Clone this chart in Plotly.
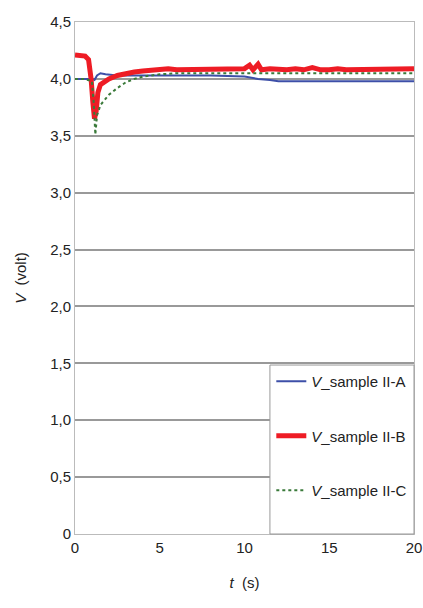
import plotly.graph_objects as go

# Data
t_a = [0, 0.5, 1.0, 1.15, 1.3, 1.5, 1.8, 2.5, 3, 5, 8, 10, 10.8, 11.5, 12, 14, 16, 18, 20]
v_a = [4.0, 4.0, 4.0, 3.99, 4.03, 4.05, 4.04, 4.03, 4.03, 4.03, 4.03, 4.02, 4.0, 3.99, 3.98, 3.98, 3.98, 3.98, 3.98]

t_b = [0, 0.3, 0.6, 0.8, 0.95, 1.05, 1.15, 1.25, 1.35, 1.5, 1.8, 2.0, 2.5, 3.0, 3.5, 4.0,
       4.5, 5.0, 5.5, 6.0, 6.5, 7.0, 7.5, 8.0, 8.5, 9.0, 9.5, 10.0, 10.3, 10.5, 10.8, 11.0,
       11.5, 12.0, 12.5, 13.0, 13.5, 14.0, 14.5, 15.0, 15.5, 16.0, 16.5, 17.0, 17.5, 18.0,
       18.5, 19.0, 19.5, 20.0]
v_b = [4.21, 4.21, 4.2, 4.17, 4.0, 3.8, 3.65, 3.72, 3.88, 3.95, 3.98, 4.0, 4.03, 4.05, 4.06, 4.07,
       4.08, 4.08, 4.09, 4.08, 4.08, 4.09, 4.08, 4.08, 4.09, 4.08, 4.08, 4.09, 4.12, 4.08, 4.13, 4.08,
       4.09, 4.08, 4.08, 4.09, 4.08, 4.1, 4.08, 4.08, 4.09, 4.08, 4.08, 4.09, 4.08, 4.09,
       4.08, 4.08, 4.09, 4.09]

t_c = [0, 0.5, 1.0, 1.1, 1.2, 1.3, 1.5, 2.0, 2.5, 3.0, 3.5, 4.0, 5.0, 6.0, 8.0, 10.0, 15.0, 20.0]
v_c = [4.0, 4.0, 3.98, 3.8, 3.51, 3.68, 3.77, 3.86, 3.92, 3.97, 4.0, 4.02, 4.04, 4.05, 4.05, 4.05, 4.05, 4.05]

y_ticks = [0, 0.5, 1.0, 1.5, 2.0, 2.5, 3.0, 3.5, 4.0, 4.5]
y_labels = ["0", "0,5", "1,0", "1,5", "2,0", "2,5", "3,0", "3,5", "4,0", "4,5"]
x_ticks = [0, 5, 10, 15, 20]
x_labels = ["0", "5", "10", "15", "20"]

font = "Liberation Sans, Arial"

fig = go.Figure()
fig.add_trace(go.Scatter(x=t_a, y=v_a, mode="lines", name="<i>V</i>_sample II-A",
                         legendgroup="a", line=dict(color="#3d4fa8", width=2)))
fig.add_trace(go.Scatter(x=t_b, y=v_b, mode="lines", name="<i>V</i>_sample II-B",
                         legendgroup="b", line=dict(color="#ee1c25", width=5)))
fig.add_trace(go.Scatter(x=t_c, y=v_c, mode="lines", name="<i>V</i>_sample II-C",
                         legendgroup="c", line=dict(color="#3a7a3a", width=2, dash="dot")))

# legend frame (drawn as a shape so it can have extra padding)
fig.add_shape(type="rect", xref="paper", yref="paper", x0=0.575, x1=1.0, y0=0.0, y1=0.33,
              fillcolor="white", line=dict(color="#999", width=1), layer="above")

fig.update_layout(
    width=423, height=608,
    margin=dict(l=75, r=9, t=22, b=74),
    plot_bgcolor="white", paper_bgcolor="white",
    font=dict(family=font, size=15, color="#222"),
    legend=dict(x=0.995, y=0.33, xanchor="right", yanchor="top",
                bgcolor="rgba(0,0,0,0)", borderwidth=0,
                tracegroupgap=32, itemwidth=30,
                font=dict(size=15, color="#222")),
    xaxis=dict(range=[0, 20], tickvals=x_ticks, ticktext=x_labels, showgrid=False,
               showline=True, linecolor="#bbb", linewidth=1, mirror=True,
               ticks="", zeroline=False, automargin=False, ticklabeloverflow="allow",
               tickfont=dict(size=15),
               title=dict(text="<i>t</i>  (s)", standoff=22, font=dict(size=15))),
    yaxis=dict(range=[0, 4.5], tickvals=y_ticks, ticktext=y_labels, showgrid=True,
               gridcolor="#999", gridwidth=2, showline=True, linecolor="#bbb",
               linewidth=1, mirror=True, ticks="", zeroline=False, automargin=False,
               tickfont=dict(size=15),
               title=dict(text="<i>V</i>  (volt)", standoff=19, font=dict(size=15))),
)

fig.write_html("out.html", config={"displayModeBar": False},
               post_script="document.body.style.margin='0';document.body.style.overflow='hidden';")
